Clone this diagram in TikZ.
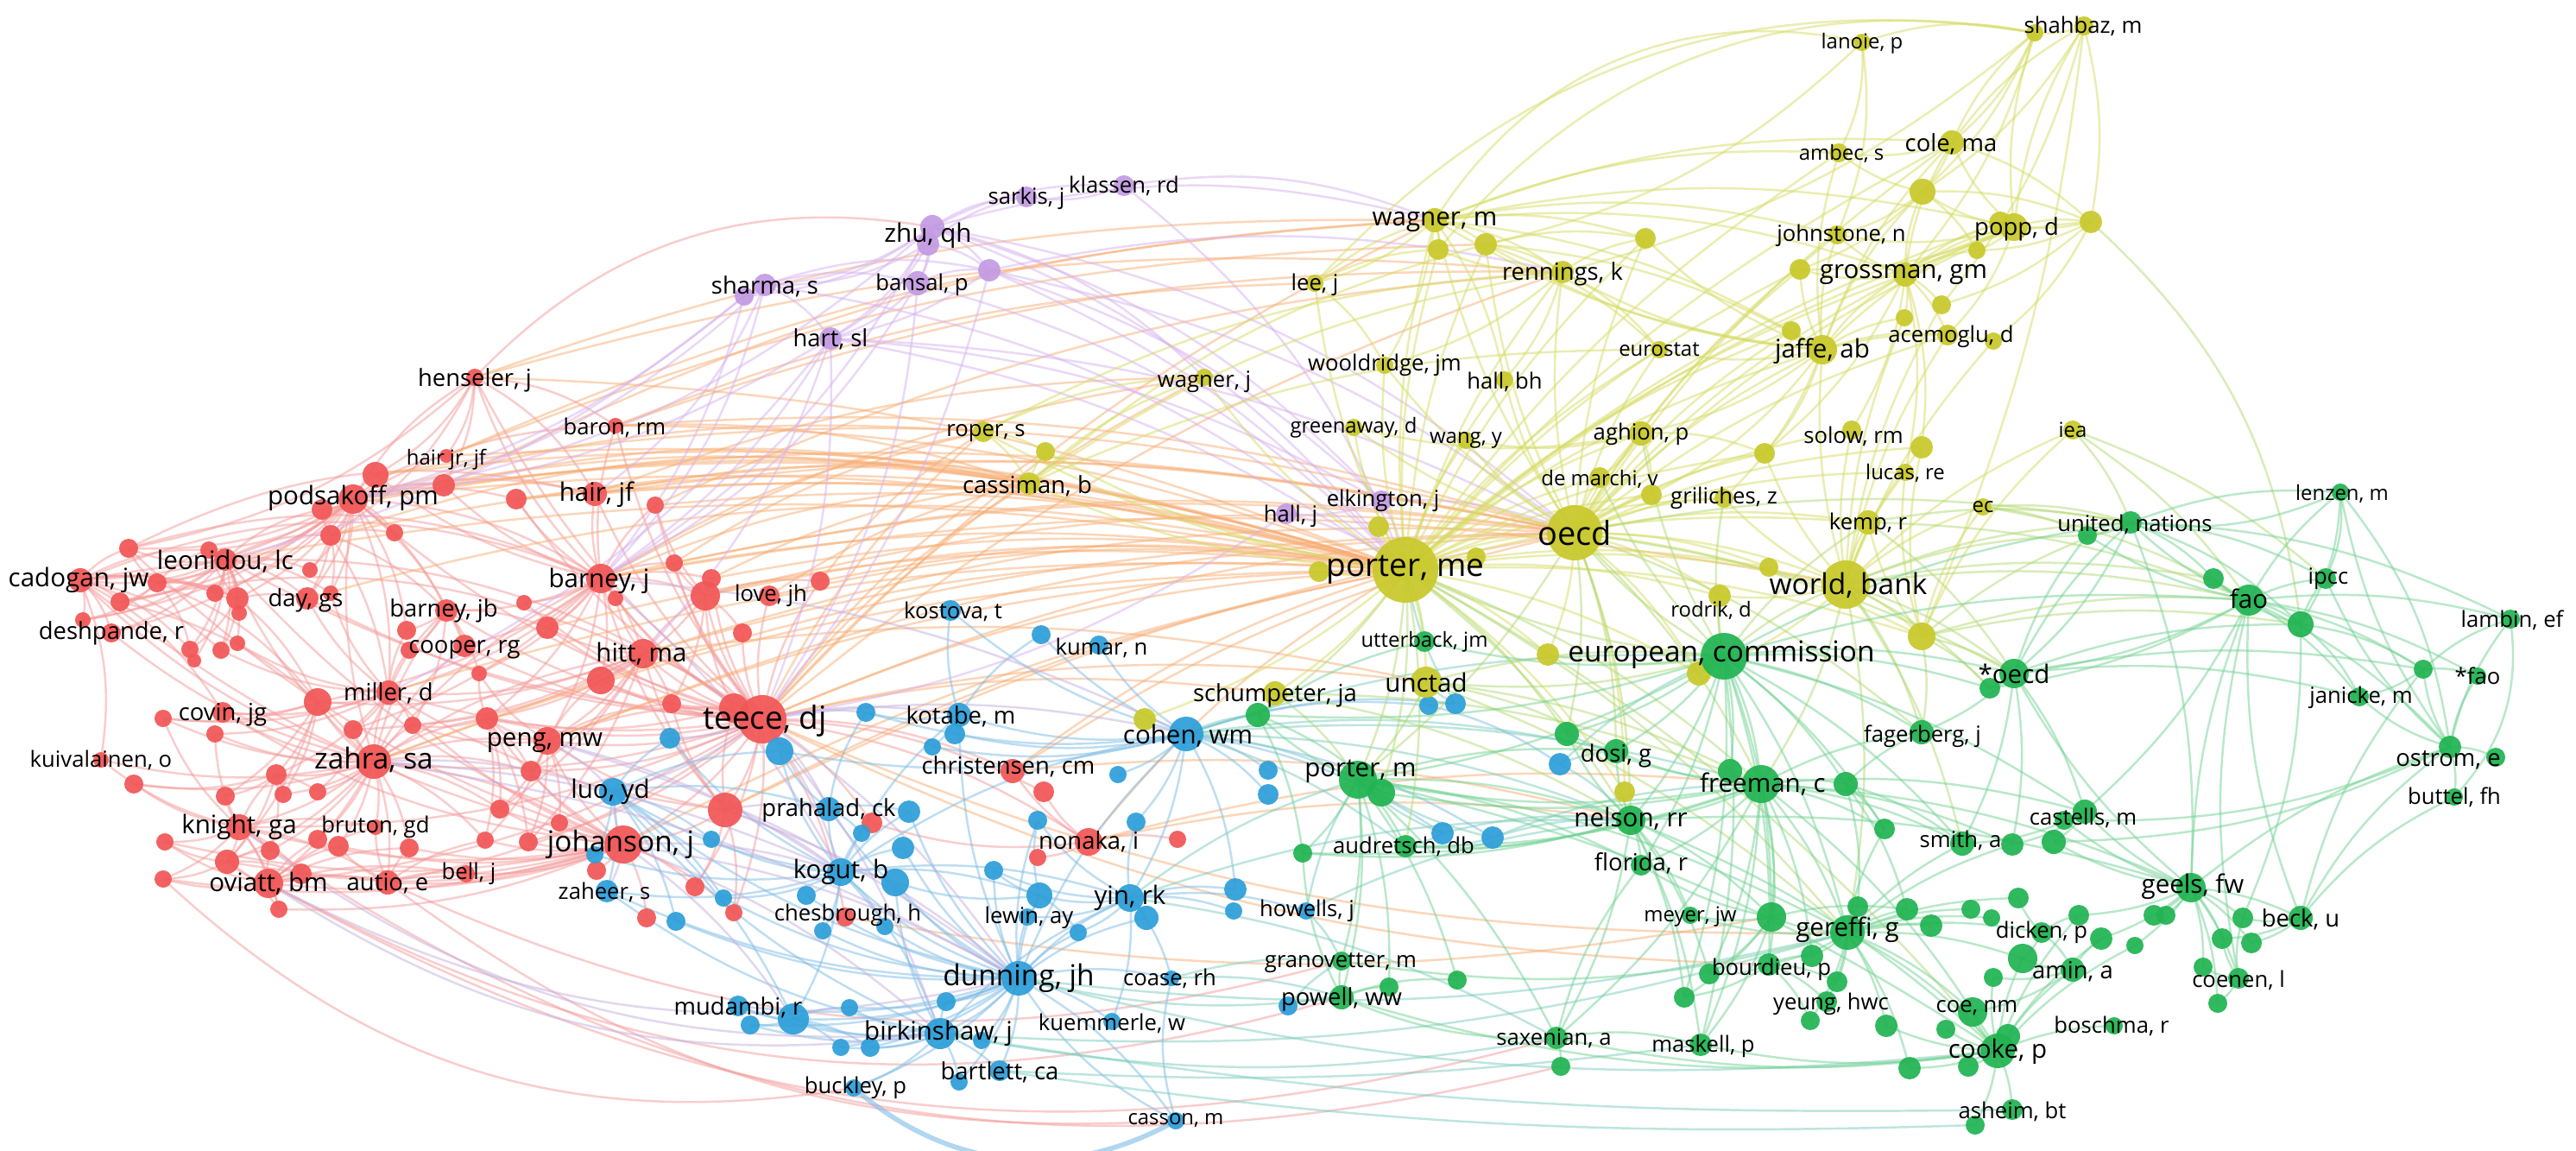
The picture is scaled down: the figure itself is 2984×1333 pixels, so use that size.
\documentclass[tikz,border=0pt]{standalone}
\usepackage{fontspec}
\setmainfont{Open Sans}
\pgfdeclarelayer{back}
\pgfdeclarelayer{edges}
\pgfdeclarelayer{labels}
\pgfsetlayers{back,edges,main,labels}
\definecolor{cR}{HTML}{F25757}
\definecolor{cB}{HTML}{2E9FD9}
\definecolor{cG}{HTML}{21B452}
\definecolor{cY}{HTML}{C9C92C}
\definecolor{cP}{HTML}{C39BE2}
\definecolor{edR}{HTML}{F59A9A}
\definecolor{edO}{HTML}{F8AE74}
\definecolor{edB}{HTML}{7DBCE6}
\definecolor{edG}{HTML}{72D394}
\definecolor{edY}{HTML}{D6DC62}
\definecolor{edYG}{HTML}{B3DA74}
\definecolor{edP}{HTML}{D7B2F0}
\definecolor{edRB}{HTML}{C4B0DE}
\definecolor{edBG}{HTML}{7CCDBE}
\tikzset{
  vnode/.style={circle,inner sep=0pt,draw=none,fill opacity=0.93},
  lab/.style={inner sep=0pt,text=black},
  lA/.style={font=\fontsize{10.8}{12}\selectfont},
  lB/.style={font=\fontsize{10.5}{12}\selectfont},
  lC/.style={font=\fontsize{9.5}{11}\selectfont},
  lD/.style={font=\fontsize{8.4}{10}\selectfont},
  lE2/.style={font=\fontsize{7.8}{9}\selectfont},
  lE/.style={font=\fontsize{7.3}{9}\selectfont},
  lF/.style={font=\fontsize{6.8}{8}\selectfont},
  ebase/.style={line width=0.7pt,draw opacity=0.5},
  eR/.style={ebase,draw=edR},
  eO/.style={ebase,draw=edO},
  eB/.style={ebase,draw=edB},
  eBthick/.style={line width=1.6pt,draw=edB,draw opacity=0.6},
  eG/.style={ebase,draw=edG},
  eY/.style={ebase,draw=edY},
  eYG/.style={ebase,draw=edYG},
  eP/.style={ebase,draw=edP},
  eRB/.style={ebase,draw=edRB},
  eBG/.style={ebase,draw=edBG},
}
\newcommand\vn[5]{\node[vnode,fill=#5,minimum size={#4*0.02cm}] (#1) at (#2,#3) {};}
\newcommand\nR[4]{\vn{#1}{#2}{#3}{#4}{cR}}
\newcommand\nB[4]{\vn{#1}{#2}{#3}{#4}{cB}}
\newcommand\nG[4]{\vn{#1}{#2}{#3}{#4}{cG}}
\newcommand\nY[4]{\vn{#1}{#2}{#3}{#4}{cY}}
\newcommand\nP[4]{\vn{#1}{#2}{#3}{#4}{cP}}
\newcommand\ed[4]{\foreach \q in {#4}{\draw[#1] (#2.center) to[bend left=#3] (\q.center);}}
\newcommand\lb[5]{\node[lab,#4] (#1) at (#2,#3) {#5};}
\begin{document}
\begin{tikzpicture}[x=0.01cm,y=-0.01cm]
\begin{pgfonlayer}{back}
\fill[white] (0,0) rectangle (2984,1333);
\end{pgfonlayer}
\useasboundingbox (0,0) rectangle (2984,1333);
% ---------------- red nodes
\nR{r1}{550}{437}{10}\nR{r2}{713}{493}{9}\nR{r3}{517}{528}{8}\nR{r4}{514}{562}{13}
\nR{r5}{409}{578}{17}\nR{r6}{435}{550}{15}\nR{r7}{373}{590}{12}\nR{r8}{689}{572}{14}
\nR{r9}{598}{578}{12}\nR{r10}{383}{620}{12}\nR{r11}{457}{617}{10}\nR{r12}{149}{635}{11}
\nR{r13}{242}{637}{10}\nR{r14}{261}{648}{13}\nR{r15}{359}{660}{9}\nR{r16}{249}{687}{10}
\nR{r17}{275}{693}{13}\nR{r18}{277}{710}{9}\nR{r19}{182}{675}{11}\nR{r20}{139}{697}{11}
\nR{r21}{93}{672}{14}\nR{r22}{96}{718}{9}\nR{r23}{129}{733}{11}\nR{r24}{220}{752}{10}
\nR{r25}{225}{765}{8}\nR{r26}{256}{753}{10}\nR{r27}{275}{745}{9}\nR{r28}{356}{693}{13}
\nR{r29}{383}{687}{9}\nR{r30}{517}{707}{13}\nR{r31}{471}{730}{11}\nR{r32}{474}{753}{10}
\nR{r33}{607}{698}{9}\nR{r34}{634}{727}{13}\nR{r35}{696}{670}{17}\nR{r36}{713}{693}{9}
\nR{r37}{538}{748}{13}\nR{r38}{555}{780}{9}\nR{r39}{745}{757}{17}\nR{r40}{696}{788}{16}
\nR{r41}{450}{802}{14}\nR{r42}{368}{813}{16}\nR{r43}{258}{825}{12}\nR{r44}{189}{832}{10}
\nR{r45}{249}{850}{10}\nR{r46}{409}{845}{11}\nR{r47}{478}{840}{10}\nR{r48}{564}{832}{13}
\nR{r49}{634}{858}{16}\nR{r50}{433}{882}{20}\nR{r51}{117}{880}{9}\nR{r52}{155}{908}{11}
\nR{r53}{320}{897}{12}\nR{r54}{261}{922}{11}\nR{r55}{328}{920}{10}\nR{r56}{368}{917}{10}
\nR{r57}{579}{937}{11}\nR{r58}{615}{893}{12}\nR{r59}{648}{953}{10}\nR{r60}{191}{975}{10}
\nR{r61}{277}{958}{15}\nR{r62}{263}{998}{14}\nR{r63}{313}{985}{11}\nR{r64}{368}{972}{11}
\nR{r65}{392}{980}{12}\nR{r66}{435}{958}{9}\nR{r67}{474}{982}{11}\nR{r68}{562}{973}{10}
\nR{r69}{612}{975}{11}\nR{r70}{311}{1023}{17}\nR{r71}{349}{1012}{12}\nR{r72}{189}{1018}{10}
\nR{r73}{323}{1053}{10}\nR{r74}{449}{1022}{14}\nR{r75}{540}{1012}{10}\nR{r76}{722}{978}{22}
\nR{r77}{691}{1008}{11}\nR{r78}{749}{1063}{11}\nR{r79}{759}{585}{10}\nR{r80}{781}{652}{10}
\nR{r81}{824}{670}{11}\nR{r82}{817}{690}{17}\nR{r83}{891}{690}{12}\nR{r84}{950}{673}{11}
\nR{r85}{860}{733}{11}\nR{r86}{778}{815}{11}\nR{r88}{850}{820}{17}\nR{r87}{883}{833}{28}
\nR{r89}{1173}{893}{14}\nR{r90}{840}{938}{20}\nR{r91}{1010}{953}{12}\nR{r92}{1209}{917}{12}
\nR{r93}{1261}{975}{16}\nR{r94}{1364}{972}{10}\nR{r95}{1202}{993}{10}\nR{r96}{805}{1027}{11}
\nR{r97}{850}{1057}{10}\nR{r98}{979}{1062}{11}
% ---------------- blue nodes
\nB{b1}{1101}{707}{12}\nB{b2}{1206}{735}{11}\nB{b3}{1273}{747}{11}\nB{b4}{1003}{825}{11}
\nB{b5}{1111}{828}{14}\nB{b6}{1106}{850}{12}\nB{b7}{1080}{865}{10}\nB{b8}{1374}{850}{20}
\nB{b9}{776}{855}{12}\nB{b10}{903}{870}{16}\nB{b11}{710}{917}{16}\nB{b12}{689}{990}{10}
\nB{b13}{703}{1032}{13}\nB{b14}{960}{937}{14}\nB{b15}{1053}{940}{13}\nB{b16}{824}{972}{10}
\nB{b17}{998}{965}{10}\nB{b18}{1046}{982}{13}\nB{b19}{1295}{897}{10}\nB{b20}{1202}{950}{11}
\nB{b21}{1316}{952}{11}\nB{b22}{1151}{1008}{11}\nB{b23}{1204}{1037}{15}\nB{b24}{974}{1010}{16}
\nB{b25}{1037}{1022}{16}\nB{b26}{934}{1037}{11}\nB{b27}{838}{1040}{10}\nB{b28}{783}{1067}{11}
\nB{b29}{953}{1078}{10}\nB{b30}{1025}{1073}{10}\nB{b31}{1309}{1040}{16}\nB{b32}{1328}{1063}{14}
\nB{b33}{1249}{1080}{10}\nB{b34}{1431}{1030}{13}\nB{b35}{1429}{1055}{10}\nB{b36}{1469}{920}{12}
\nB{b37}{1469}{892}{11}\nB{b38}{1190}{1062}{10}\nB{b39}{1180}{1133}{20}\nB{b40}{1357}{1133}{9}
\nB{b41}{855}{1165}{12}\nB{b42}{869}{1187}{11}\nB{b43}{919}{1180}{18}\nB{b44}{984}{1167}{10}
\nB{b45}{1096}{1160}{11}\nB{b46}{974}{1213}{10}\nB{b47}{1008}{1213}{11}\nB{b48}{1137}{1205}{10}
\nB{b49}{1111}{1253}{10}\nB{b50}{1089}{1197}{18}\nB{b51}{1288}{1183}{10}\nB{b52}{1158}{1240}{12}
\nB{b53}{989}{1260}{10}\nB{b54}{1362}{1298}{10}\nB{b55}{1655}{817}{11}\nB{b56}{1686}{815}{12}
\nB{b57}{1807}{885}{13}\nB{b58}{1671}{965}{13}\nB{b59}{1729}{970}{13}\nB{b60}{1513}{1055}{10}
\nB{b61}{1492}{1165}{11}
% ---------------- purple nodes
\nP{p1}{1189}{228}{12}\nP{p2}{1302}{215}{12}\nP{p3}{1080}{263}{14}\nP{p4}{1075}{283}{13}
\nP{p5}{1146}{313}{13}\nP{p6}{886}{330}{13}\nP{p7}{862}{343}{11}\nP{p8}{1063}{328}{14}
\nP{p9}{962}{392}{13}\nP{p10}{1600}{580}{12}\nP{p11}{1490}{595}{12}
% ---------------- yellow nodes
\nY{y1}{2157}{49}{10}\nY{y2}{2357}{38}{10}\nY{y3}{2414}{30}{11}\nY{y4}{2130}{177}{11}
\nY{y5}{2261}{165}{14}\nY{y6}{2227}{222}{15}\nY{y7}{2333}{263}{16}\nY{y8}{2317}{258}{13}
\nY{y9}{2290}{290}{10}\nY{y10}{2422}{257}{13}\nY{y11}{2249}{353}{11}\nY{y12}{1662}{255}{14}
\nY{y13}{1666}{289}{12}\nY{y14}{1721}{283}{13}\nY{y15}{1906}{276}{12}\nY{y16}{1810}{315}{13}
\nY{y17}{1523}{328}{10}\nY{y18}{2128}{272}{11}\nY{y19}{2085}{312}{12}\nY{y20}{2207}{318}{14}
\nY{y21}{2206}{368}{10}\nY{y22}{2256}{388}{12}\nY{y23}{2309}{395}{10}\nY{y25}{2075}{383}{11}
\nY{y24}{2111}{405}{17}\nY{y26}{1922}{405}{10}\nY{y27}{1604}{423}{10}\nY{y28}{1743}{440}{10}
\nY{y29}{1395}{437}{10}\nY{y30}{1139}{500}{12}\nY{y31}{1211}{523}{11}\nY{y32}{1192}{560}{13}
\nY{y33}{1568}{495}{10}\nY{y34}{1698}{510}{10}\nY{y35}{1901}{502}{14}\nY{y36}{2044}{525}{12}
\nY{y37}{2145}{498}{11}\nY{y38}{2226}{518}{13}\nY{y39}{2401}{498}{11}\nY{y40}{2207}{547}{10}
\nY{y41}{1853}{553}{12}\nY{y42}{1913}{573}{12}\nY{y43}{1997}{577}{11}\nY{y44}{2297}{587}{10}
\nY{y45}{1597}{610}{12}\nY{y46}{1824}{617}{32}\nY{y47}{2164}{605}{14}\nY{y49}{1528}{662}{12}
\nY{y50}{1710}{645}{11}\nY{y48}{1628}{660}{38}\nY{y52}{2049}{657}{11}\nY{y51}{2138}{677}{28}
\nY{y53}{1992}{690}{13}\nY{y54}{2226}{737}{16}\nY{y55}{1793}{758}{13}\nY{y56}{1968}{780}{14}
\nY{y57}{1652}{790}{18}\nY{y58}{1326}{833}{13}\nY{y59}{1477}{803}{14}\nY{y60}{1882}{917}{12}
% ---------------- green nodes
\nG{g1}{1650}{743}{12}\nG{g2}{1997}{760}{27}\nG{g3}{1457}{828}{14}\nG{g4}{1815}{850}{14}
\nG{g5}{1872}{870}{14}\nG{g6}{2226}{848}{14}\nG{g8}{1600}{918}{16}\nG{g7}{1573}{903}{22}
\nG{g9}{2468}{605}{13}\nG{g10}{2418}{620}{11}\nG{g11}{2711}{570}{10}\nG{g12}{2605}{695}{18}
\nG{g13}{2564}{670}{12}\nG{g14}{2665}{723}{15}\nG{g15}{2694}{670}{12}\nG{g16}{2908}{717}{11}
\nG{g17}{2333}{780}{17}\nG{g18}{2305}{797}{12}\nG{g19}{2807}{775}{11}\nG{g20}{2870}{783}{10}
\nG{g21}{2733}{807}{11}\nG{g22}{2838}{865}{13}\nG{g23}{2891}{877}{11}\nG{g24}{2843}{923}{10}
\nG{g25}{2415}{940}{14}\nG{g26}{2391}{950}{11}\nG{g27}{2379}{975}{14}\nG{g28}{2273}{977}{14}
\nG{g29}{2331}{978}{13}\nG{g30}{2183}{960}{12}\nG{g31}{2538}{1028}{17}\nG{g32}{2665}{1063}{14}
\nG{g33}{2598}{1063}{12}\nG{g34}{2365}{1080}{12}\nG{g35}{2401}{1123}{14}\nG{g36}{2343}{1110}{17}
\nG{g37}{2593}{1133}{12}\nG{g38}{2285}{1172}{17}\nG{g39}{2449}{1188}{10}\nG{g41}{2326}{1200}{14}
\nG{g40}{2314}{1217}{20}\nG{g42}{2280}{1235}{12}\nG{g43}{2331}{1285}{12}\nG{g44}{2288}{1303}{11}
\nG{g45}{2283}{1053}{11}\nG{g46}{2307}{1063}{10}\nG{g47}{2338}{1040}{12}\nG{g48}{2408}{1060}{12}
\nG{g49}{2434}{1087}{13}\nG{g50}{2473}{1095}{10}\nG{g51}{2495}{1060}{12}\nG{g52}{2509}{1060}{11}
\nG{g53}{2574}{1087}{12}\nG{g54}{2608}{1092}{12}\nG{g55}{2552}{1120}{11}\nG{g56}{2569}{1162}{11}
\nG{g57}{2309}{1132}{11}\nG{g58}{2254}{1192}{11}\nG{g59}{2237}{1072}{13}\nG{g61}{2004}{893}{14}
\nG{g60}{2040}{908}{22}\nG{g62}{2138}{908}{14}\nG{g63}{1889}{950}{17}\nG{g64}{1901}{1002}{12}
\nG{g65}{1628}{980}{13}\nG{g66}{1509}{988}{11}\nG{g67}{1958}{1060}{10}\nG{g68}{2052}{1062}{17}
\nG{g70}{2152}{1050}{12}\nG{g71}{2209}{1053}{13}\nG{g69}{2140}{1080}{20}\nG{g72}{1554}{1113}{11}
\nG{g73}{1554}{1155}{14}\nG{g74}{1609}{1143}{11}\nG{g75}{1688}{1135}{11}\nG{g76}{2049}{1117}{13}
\nG{g77}{1980}{1128}{12}\nG{g78}{2128}{1137}{12}\nG{g79}{2099}{1107}{13}\nG{g80}{2116}{1160}{12}
\nG{g81}{2097}{1182}{11}\nG{g82}{1951}{1155}{12}\nG{g83}{2185}{1188}{13}\nG{g84}{2212}{1237}{13}
\nG{g85}{1803}{1202}{13}\nG{g86}{1808}{1235}{11}\nG{g87}{1970}{1210}{13}
% ================= edges
\begin{pgfonlayer}{edges}
% red
\ed{eR}{r87}{12}{r5,r35,r39,r49,r50,r76,r41,r90,r82,r88,r83,r84,r85,r86,r80,r81,r79,r30,r37,r34,r40,r48,r58,r69,r89,r93,r98,r8,r2,r1,r14,r28,r61,r70,r74,r9,r33,r36,r96,r97,r91,r92}
\ed{eR}{r50}{12}{r5,r35,r39,r41,r42,r43,r49,r61,r70,r74,r76,r66,r53,r55,r56,r62,r63,r64,r65,r67,r52,r51,r44,r45,r46,r47,r48,r58,r21,r14,r30,r37,r23,r57,r68}
\ed{eR}{r76}{12}{r70,r61,r74,r75,r69,r68,r67,r65,r58,r57,r59,r49,r48,r41,r43,r62,r71,r72,r60,r73,r78,r77,r21,r12,r14,r96,r97}
\ed{eR}{r5}{14}{r6,r7,r4,r3,r1,r8,r9,r10,r11,r14,r13,r12,r21,r19,r20,r17,r16,r28,r29,r30,r31,r37,r41,r35,r15,r2,r23,r22}
\ed{eR}{r35}{12}{r39,r49,r41,r30,r37,r34,r33,r36,r40,r8,r9,r6,r4,r48,r38,r82,r81,r42,r46,r79,r80,r2,r1}
\ed{eR}{r39}{12}{r49,r40,r48,r58,r42,r46,r47,r34,r36,r86,r88,r82,r41,r69,r57}
\ed{eR}{r14}{15}{r21,r12,r19,r20,r22,r23,r13,r16,r17,r18,r24,r25,r26,r27,r28,r15,r29,r10,r7}
\ed{eR}{r21}{15}{r12,r19,r20,r22,r23,r16,r17,r24,r13,r26,r51,r43}
\ed{eR}{r41}{12}{r42,r43,r44,r45,r46,r47,r31,r32,r30,r29,r28,r27,r26,r53,r56}
\ed{eR}{r49}{12}{r48,r58,r57,r59,r69,r68,r40,r86,r38,r47,r88}
\ed{eR}{r61}{12}{r70,r62,r63,r60,r72,r71,r73,r54,r52,r53,r51,r66,r74,r44,r45}
\ed{eR}{r70}{12}{r74,r62,r63,r64,r65,r71,r72,r73,r60,r66,r67,r75}
\ed{eR}{r1}{15}{r3,r4,r6,r8,r2,r12,r10}
\ed{eR}{r42}{12}{r43,r44,r53,r54,r55,r62}
\ed{eR}{r90}{12}{r76,r49,r39,r88,r86,r96,r97,r35,r41}
\ed{eR}{r88}{12}{r82,r86,r40,r48}
\ed{eR}{r93}{12}{r89,r92,r94,r95,r91}
\ed{eR}{r19}{15}{r12,r13,r16,r17,r20,r22,r24,r42}
\ed{eR}{r17}{12}{r13,r16,r18,r24,r26,r28,r42}
\ed{eR}{r10}{12}{r7,r11,r15,r28,r29,r30,r41}
\ed{eR}{r30}{12}{r31,r32,r37,r38,r34,r47}
\ed{eR}{r82}{12}{r81,r80,r79,r84,r85,r86,r40}
\ed{eR}{r48}{12}{r47,r57,r58,r68,r69,r38}
\ed{eR}{r53}{12}{r52,r54,r55,r56,r62,r63}
\ed{eR}{r62}{12}{r60,r63,r72,r73,r71}
\ed{eR}{r74}{12}{r65,r66,r67,r75,r68}
\ed{eR}{r21}{22}{r87,r35}
\ed{eR}{r12}{20}{r35,r8}
\ed{eR}{r20}{18}{r50,r39}
\draw[eR] (r1.center) to[bend left=28] (p3.center);
\ed{eR}{r70}{-22}{g73,g85}
\ed{eR}{r74}{-20}{g72,b54}
\ed{eR}{r61}{-24}{g86}
\ed{eR}{r72}{-26}{b53}
% red-yellow
\ed{eO}{r87}{10}{y48,y46,y30,y32,y29,y57,y59,y31,y12,y16}
\ed{eO}{r5}{10}{y48,y46,y32,y30}
\ed{eO}{r35}{10}{y48,y46,y30,y32,y51,y29}
\ed{eO}{r39}{10}{y48,y46,y57}
\ed{eO}{r50}{10}{y48,y46}
\ed{eO}{r90}{8}{y48,y46}
\ed{eO}{r84}{10}{y48,y30}
\ed{eO}{r83}{10}{y48,y32}
\ed{eO}{r2}{10}{y48,y32,y46,y16,y17}
\ed{eO}{r1}{10}{y48,y12,y16}
\ed{eO}{r8}{10}{y48,y46,y32,y29}
\ed{eO}{r3}{10}{y48,y12,y14}
\ed{eO}{r9}{10}{y48,y46}
\ed{eO}{r82}{10}{y48,y46}
\ed{eO}{r34}{10}{y48}
\ed{eO}{r81}{10}{y32,y48}
\ed{eO}{r80}{10}{y30,y46}
\ed{eO}{r79}{10}{y48,y16}
\ed{eO}{r41}{10}{y48}
\ed{eO}{r49}{10}{y48,y46}
\ed{eO}{r76}{8}{y48}
\ed{eO}{r14}{10}{y48}
\ed{eO}{r10}{14}{y48,y32}
\ed{eO}{r7}{14}{y48}
\ed{eO}{r28}{14}{y48}
\ed{eO}{r4}{12}{y32,y48,y12}
\ed{eO}{r93}{10}{y48,g60,g63}
\ed{eO}{r89}{10}{y48,y46,g63}
\ed{eO}{r6}{12}{y48,y46}
\ed{eO}{r87}{-12}{g69,g76}
\ed{eO}{r98}{-10}{g68}
% blue
\ed{eB}{b39}{12}{b50,b52,b53,b54,b51,b40,b38,b31,b32,b33,b23,b25,b24,b26,b29,b30,b45,b46,b47,b48,b49,b43,b41,b42,b44,b22,b18,b14,b11,b13,b8,b5,b28,b27,b15,b20}
\ed{eB}{b24}{12}{b14,b15,b18,b17,b16,b25,b26,b27,b29,b30,b50,b43,b11,b13,b8,b5,b23,b31,b12,b9,b10}
\ed{eB}{b50}{12}{b41,b42,b43,b44,b45,b46,b47,b48,b49,b52,b53,b11,b13,b25,b31}
\ed{eB}{b8}{12}{b5,b6,b7,b3,b2,b1,b19,b21,b31,b36,b37,b55,b56,b34,b58,b59,b4,b10}
\ed{eB}{b31}{12}{b32,b33,b34,b35,b38,b23,b22,b21,b20,b51,b40,b60}
\ed{eB}{b11}{12}{b12,b13,b9,b16,b28,b27,b14,b10,b43}
\ed{eB}{b43}{12}{b41,b42,b44,b46,b47}
\draw[eBthick] (b53.center) to[bend right=35] (b54.center);
\ed{eB}{b54}{15}{b39,b40}
\ed{eB}{b14}{12}{b15,b4,b10,b17}
\ed{eB}{b55}{10}{b56,b57}
\ed{eB}{b23}{12}{b22,b20,b38,b33,b25}
\ed{eB}{b5}{12}{b6,b7,b4,b1,b2}
% red-blue
\ed{eRB}{r87}{10}{b39,b24,b11,b14,b10,b4,b5,b8,b50,b9}
\ed{eRB}{r76}{10}{b39,b24,b11,b13,b50,b43,b12}
\ed{eRB}{r50}{10}{b39,b11,b24}
\ed{eRB}{r35}{10}{b8,b24}
\ed{eRB}{r49}{10}{b11,b39,b24}
\ed{eRB}{r90}{10}{b24,b39,b14}
\ed{eRB}{r70}{-20}{b39,b50}
\ed{eRB}{r61}{-20}{b50}
% blue-green
\ed{eBG}{b8}{10}{g7,g63,g60,g2,g5,g65,g3}
\ed{eBG}{b58}{10}{g7,g63,g65}
\ed{eBG}{b59}{10}{g7,g63,g65,g60}
\ed{eBG}{b60}{10}{g72,g7,g63}
\ed{eBG}{b40}{10}{g72,g73}
\ed{eBG}{b61}{10}{g73,g72}
\ed{eBG}{b39}{-10}{g73,g69,g40}
\ed{eBG}{b50}{-10}{g69,g85}
\ed{eBG}{b50}{-5}{g43}
\ed{eBG}{b52}{-5}{g87,g44}
\ed{eBG}{b31}{10}{g63,g7,g85}
\ed{eBG}{b57}{10}{g5,g63,g2}
\ed{eBG}{b56}{10}{y57,y48}
% purple
\ed{eP}{p3}{15}{p1,p2,p4,p5,p6,p7,p8,p9,y48,y46,p10,r5,r35,y12,y29}
\ed{eP}{p4}{15}{p6,p8,p9,p5,p1}
\ed{eP}{p6}{15}{p7,p8,p9,p5,r35,r5,r8,y48}
\ed{eP}{p8}{15}{p9,p5,y48,r35,r87}
\ed{eP}{p9}{12}{r35,r87,r5,y48,y46,r39,r41,p10}
\ed{eP}{p5}{12}{y48,p9,p10,y46,r87,y16}
\ed{eP}{p2}{15}{p1,y48,y12}
\ed{eP}{p10}{12}{y48,y46,p11}
\ed{eP}{p11}{12}{y48,r87}
\ed{eP}{p7}{12}{r5,r14,r35}
% yellow
\ed{eY}{y48}{10}{y49,y50,y45,y46,y41,y42,y35,y33,y34,y27,y28,y29,y30,y31,y32,y17,y12,y13,y14,y16,y15,y26,y24,y20,y51,y53,y55,y57,y58,y59,y36,y43,y47,y52,y56,y54,y19,y25,y8,y7,y4,y5,y60}
\ed{eY}{y46}{10}{y41,y42,y43,y35,y36,y37,y40,y47,y51,y52,y53,y24,y25,y20,y16,y15,y14,y12,y26,y28,y34,y33,y27,y55,y56,y54,y38,y7,y5,y22,y18,y19,y60}
\ed{eY}{y51}{10}{y47,y37,y38,y39,y40,y44,y36,y52,y53,y54,y22,y23,y11,y21,y24,y43,y56}
\ed{eY}{y24}{12}{y25,y21,y22,y23,y20,y19,y18,y4,y5,y7,y6,y12,y16,y15,y26,y42,y35,y43,y36,y14}
\ed{eY}{y20}{12}{y6,y7,y8,y9,y10,y5,y11,y21,y22,y18,y19,y37,y40,y38,y36}
\ed{eY}{y12}{12}{y13,y14,y15,y16,y17,y27,y28,y24,y20,y7,y5,y4,y18}
\ed{eY}{y7}{12}{y8,y9,y10,y5,y6,y3,y2,y18,y19,y22}
\ed{eY}{y5}{12}{y2,y3,y6,y4,y10}
\ed{eY}{y1}{15}{y4,y2,y18,y14}
\draw[eY] (y12.center) to[bend left=35] (y1.center);
\draw[eY] (y13.center) to[bend left=30] (y2.center);
\draw[eY] (y17.center) to[bend left=28] (y2.center);
\ed{eY}{y3}{12}{y10,y2,y6,y11}
\draw[eY] (y3.center) to[bend left=8] (y54.center);
\ed{eY}{y2}{12}{y5,y6,y20,y16}
\ed{eY}{y14}{12}{y15,y16,y24,y26}
\ed{eY}{y30}{12}{y31,y32,y29,y16}
\ed{eY}{y32}{12}{y31,y29,y16,y14,y26}
\ed{eY}{y17}{12}{y12,y13,y27}
\ed{eY}{y16}{12}{y13,y15,y28,y26,y27}
\ed{eY}{y35}{12}{y34,y36,y41,y42,y33}
\ed{eY}{y54}{12}{y40,y47,y38,y44,y39}
\ed{eY}{y6}{12}{y18,y19,y4,y10,y9}
\ed{eY}{y10}{12}{y9,y8,y11,y23}
% yellow-green
\ed{eYG}{g2}{10}{y46,y48,y51,y53,y56,y55,y57,y47,y43,y41,y35}
\ed{eYG}{y51}{10}{g9,g10,g12,g13,g17,g18,g6,g60,g28,g69}
\ed{eYG}{y46}{10}{g5,g4,g60,g63,g17,g9,g6,g7}
\ed{eYG}{y48}{10}{g7,g8,g63,g60,g1,g3,g65,g4,g69,g40}
\ed{eYG}{y54}{10}{g17,g18,g9,g12,g14,g6}
\ed{eYG}{y44}{10}{g9,g10,g12}
\ed{eYG}{y39}{10}{g12,g9,g15}
\ed{eYG}{y57}{10}{g7,g2,g5,g60,g69}
\draw[eYG] (y10.center) to[bend left=20] (g14.center);
\ed{eYG}{y59}{10}{g7,g60,g63}
\ed{eYG}{y47}{10}{g9,g17,g12}
% green
\ed{eG}{g2}{10}{g4,g5,g6,g60,g61,g62,g63,g64,g17,g18,g9,g12,g30,g28,g25,g68,g69,g7,g1,g3,g87,g82,g76}
\ed{eG}{g60}{10}{g61,g62,g63,g64,g5,g4,g6,g30,g28,g29,g25,g31,g68,g69,g76,g77,g79,g7,g8,g65,g66,g85,g87,g40}
\ed{eG}{g7}{10}{g8,g3,g65,g66,g63,g64,g72,g73,g74,g75,g85,g40,g69,g5}
\ed{eG}{g63}{10}{g64,g5,g4,g65,g66,g68,g67,g82,g77,g31,g40,g85,g87}
\ed{eG}{g69}{10}{g70,g71,g68,g79,g76,g78,g80,g81,g83,g84,g59,g45,g46,g47,g34,g36,g38,g40,g28,g29,g30,g67}
\ed{eG}{g40}{10}{g41,g42,g43,g44,g38,g57,g58,g35,g36,g39,g49,g50,g87,g85,g84,g83,g48}
\ed{eG}{g31}{10}{g51,g52,g53,g54,g55,g33,g32,g37,g56,g49,g48,g50,g27,g26,g25,g17,g22,g12}
\ed{eG}{g12}{10}{g13,g14,g15,g9,g10,g11,g16,g19,g20,g21,g22,g17,g18,g25}
\ed{eG}{g17}{10}{g18,g9,g10,g6,g28,g29,g25,g14,g21,g19}
\ed{eG}{g22}{12}{g23,g24,g19,g20,g16,g15,g11,g21,g26,g27}
\draw[eG] (g16.center) to[bend left=25] (g24.center);
\ed{eG}{g11}{15}{g15,g14,g9,g22}
\ed{eG}{g32}{12}{g33,g54,g53,g22,g24,g19}
\ed{eG}{g37}{12}{g53,g56,g55,g33}
\ed{eG}{g34}{12}{g35,g36,g47,g48}
\ed{eG}{g35}{12}{g36,g57,g38,g49}
\ed{eG}{g76}{12}{g77,g79,g80,g78,g81,g82}
\ed{eG}{g85}{12}{g86,g87,g64,g73}
\ed{eG}{g73}{12}{g72,g74,g75,g66}
\ed{eG}{g25}{12}{g26,g27,g28,g29}
\draw[eG] (g73.center) to[bend right=12] (g40.center);
\draw[eG] (g72.center) to[bend right=12] (g69.center);
\ed{eG}{g9}{12}{g10,g13,g14,g15,g16,g17,g11,g31}
\ed{eG}{g68}{10}{g64,g67,g77,g82,g87,g71}
\ed{eG}{g62}{10}{g6,g30,g28,g70,g71}
\ed{eG}{g3}{10}{g8,g66,g1}
\ed{eG}{g14}{12}{g13,g15,g19,g21,g33}
\ed{eG}{g19}{12}{g20,g21,g16}
\ed{eG}{g12}{-12}{g32,g37}
\end{pgfonlayer}
% ================= labels
\begin{pgfonlayer}{labels}
\lb{Lr1}{550}{440}{lE2}{henseler, j}
\lb{Lr2}{712}{495}{lE}{baron, rm}
\lb{Lr3}{517}{532}{lF}{hair jr, jf}
\lb{Lr5}{409}{577}{lD}{podsakoff, pm}
\lb{Lr8}{691}{573}{lD}{hair, jf}
\lb{Lr14}{261}{650}{lD}{leonidou, lc}
\lb{Lr21}{91}{672}{lD}{cadogan, jw}
\lb{Lr28}{354}{695}{lE2}{day, gs}
\lb{Lr30}{514}{707}{lE2}{barney, jb}
\lb{Lr35}{694}{673}{lD}{barney, j}
\lb{Lr23}{129}{733}{lE2}{deshpande, r}
\lb{Lr37}{538}{752}{lE2}{cooper, rg}
\lb{Lr39}{743}{757}{lD}{hitt, ma}
\lb{Lr41}{450}{803}{lE2}{miller, d}
\lb{Lr43}{258}{828}{lE2}{covin, jg}
\lb{Lr49}{631}{860}{lD}{peng, mw}
\lb{Lr50}{433}{880}{lC}{zahra, sa}
\lb{Lr51}{117}{880}{lE}{kuivalainen, o}
\lb{Lr61}{277}{958}{lD}{knight, ga}
\lb{Lr66}{435}{958}{lE}{bruton, gd}
\lb{Lr76}{719}{978}{lC}{johanson, j}
\lb{Lr70}{311}{1023}{lD}{oviatt, bm}
\lb{Lr74}{449}{1023}{lE2}{autio, e}
\lb{Lr75}{543}{1012}{lE}{bell, j}
\lb{Lr83}{893}{690}{lE}{love, jh}
\lb{Lr87}{886}{835}{lB}{teece, dj}
\lb{Lr89}{1168}{888}{lE2}{christensen, cm}
\lb{Lb14}{960}{938}{lE2}{prahalad, ck}
\lb{Lr93}{1261}{975}{lE2}{nonaka, i}
\lb{Lr98}{982}{1060}{lE}{chesbrough, h}
\lb{Lb1}{1104}{708}{lE}{kostova, t}
\lb{Lb3}{1276}{750}{lE}{kumar, n}
\lb{Lb5}{1113}{830}{lE2}{kotabe, m}
\lb{Lb8}{1376}{852}{lD}{cohen, wm}
\lb{Lb11}{707}{917}{lD}{luo, yd}
\lb{Lb13}{700}{1033}{lE}{zaheer, s}
\lb{Lb24}{974}{1010}{lD}{kogut, b}
\lb{Lb31}{1309}{1040}{lD}{yin, rk}
\lb{Lb38}{1192}{1063}{lE}{lewin, ay}
\lb{Lb39}{1180}{1133}{lC}{dunning, jh}
\lb{Lb40}{1355}{1133}{lE}{coase, rh}
\lb{Lb41}{855}{1167}{lE2}{mudambi, r}
\lb{Lb50}{1087}{1197}{lD}{birkinshaw, j}
\lb{Lb51}{1288}{1185}{lE}{kuemmerle, w}
\lb{Lb52}{1158}{1242}{lE2}{bartlett, ca}
\lb{Lb53}{991}{1260}{lE}{buckley, p}
\lb{Lb54}{1362}{1298}{lF}{casson, m}
\lb{Lb60}{1514}{1055}{lE}{howells, j}
\lb{Lp1}{1189}{230}{lE}{sarkis, j}
\lb{Lp2}{1302}{215}{lE}{klassen, rd}
\lb{Lp3}{1075}{273}{lD}{zhu, qh}
\lb{Lp6}{886}{332}{lE2}{sharma, s}
\lb{Lp8}{1068}{330}{lE}{bansal, p}
\lb{Lp9}{962}{393}{lE2}{hart, sl}
\lb{Lp10}{1602}{580}{lE}{elkington, j}
\lb{Lp11}{1495}{598}{lE}{hall, j}
\lb{Ly1}{2157}{50}{lF}{lanoie, p}
\lb{Ly3}{2413}{30}{lE}{shahbaz, m}
\lb{Ly4}{2133}{178}{lF}{ambec, s}
\lb{Ly5}{2260}{167}{lE2}{cole, ma}
\lb{Ly7}{2336}{265}{lE2}{popp, d}
\lb{Ly12}{1662}{257}{lD}{wagner, m}
\lb{Ly16}{1810}{317}{lE2}{rennings, k}
\lb{Ly17}{1523}{330}{lE}{lee, j}
\lb{Ly18}{2133}{273}{lE}{johnstone, n}
\lb{Ly20}{2205}{318}{lD}{grossman, gm}
\lb{Ly22}{2260}{390}{lE}{acemoglu, d}
\lb{Ly24}{2111}{407}{lD}{jaffe, ab}
\lb{Ly26}{1922}{405}{lF}{eurostat}
\lb{Ly27}{1604}{423}{lE}{wooldridge, jm}
\lb{Ly28}{1743}{442}{lE}{hall, bh}
\lb{Ly29}{1395}{442}{lE}{wagner, j}
\lb{Ly30}{1142}{502}{lE}{roper, s}
\lb{Ly32}{1190}{563}{lE2}{cassiman, b}
\lb{Ly33}{1568}{495}{lF}{greenaway, d}
\lb{Ly34}{1698}{510}{lF}{wang, y}
\lb{Ly35}{1901}{503}{lE}{aghion, p}
\lb{Ly37}{2147}{505}{lE}{solow, rm}
\lb{Ly39}{2401}{498}{lF}{iea}
\lb{Ly40}{2207}{548}{lF}{lucas, re}
\lb{Ly41}{1853}{555}{lF}{de marchi, v}
\lb{Ly43}{1997}{577}{lE}{griliches, z}
\lb{Ly44}{2297}{587}{lF}{ec}
\lb{Ly46}{1824}{617}{lA}{oecd}
\lb{Ly47}{2164}{607}{lE}{kemp, r}
\lb{Ly48}{1628}{660}{lB}{porter, me}
\lb{Ly51}{2141}{678}{lC}{world, bank}
\lb{Ly53}{1982}{707}{lF}{rodrik, d}
\lb{Ly57}{1652}{790}{lD}{unctad}
\lb{Ly59}{1477}{805}{lE2}{schumpeter, ja}
\lb{Lg1}{1650}{743}{lF}{utterback, jm}
\lb{Lg2}{1994}{758}{lC}{european, commission}
\lb{Lg5}{1872}{875}{lE2}{dosi, g}
\lb{Lg6}{2227}{853}{lE}{fagerberg, j}
\lb{Lg7}{1576}{893}{lD}{porter, m}
\lb{Lg9}{2473}{607}{lE}{united, nations}
\lb{Lg11}{2713}{572}{lF}{lenzen, m}
\lb{Lg12}{2605}{693}{lD}{fao}
\lb{Lg15}{2697}{670}{lE}{ipcc}
\lb{Lg16}{2910}{718}{lE}{lambin, ef}
\lb{Lg17}{2333}{780}{lD}{*oecd}
\lb{Lg20}{2870}{783}{lE}{*fao}
\lb{Lg21}{2735}{808}{lE}{janicke, m}
\lb{Lg22}{2836}{880}{lE2}{ostrom, e}
\lb{Lg24}{2843}{923}{lE}{buttel, fh}
\lb{Lg25}{2413}{947}{lE}{castells, m}
\lb{Lg28}{2271}{973}{lE}{smith, a}
\lb{Lg31}{2540}{1027}{lD}{geels, fw}
\lb{Lg32}{2665}{1065}{lE2}{beck, u}
\lb{Lg34}{2365}{1080}{lE}{dicken, p}
\lb{Lg35}{2401}{1125}{lE2}{amin, a}
\lb{Lg37}{2593}{1135}{lE}{coenen, l}
\lb{Lg38}{2290}{1167}{lE}{coe, nm}
\lb{Lg39}{2446}{1188}{lE}{boschma, r}
\lb{Lg40}{2314}{1218}{lD}{cooke, p}
\lb{Lg43}{2331}{1287}{lE}{asheim, bt}
\lb{Lg60}{2042}{908}{lD}{freeman, c}
\lb{Lg63}{1889}{948}{lD}{nelson, rr}
\lb{Lg64}{1901}{1000}{lE2}{florida, r}
\lb{Lg65}{1626}{980}{lE}{audretsch, db}
\lb{Lg67}{1958}{1062}{lF}{meyer, jw}
\lb{Lg69}{2140}{1077}{lD}{gereffi, g}
\lb{Lg72}{1553}{1115}{lE}{granovetter, m}
\lb{Lg73}{1554}{1157}{lE2}{powell, ww}
\lb{Lg76}{2052}{1123}{lE}{bourdieu, p}
\lb{Lg80}{2121}{1163}{lE}{yeung, hwc}
\lb{Lg85}{1800}{1203}{lE}{saxenian, a}
\lb{Lg87}{1973}{1212}{lE}{maskell, p}
\end{pgfonlayer}
\end{tikzpicture}
\end{document}
